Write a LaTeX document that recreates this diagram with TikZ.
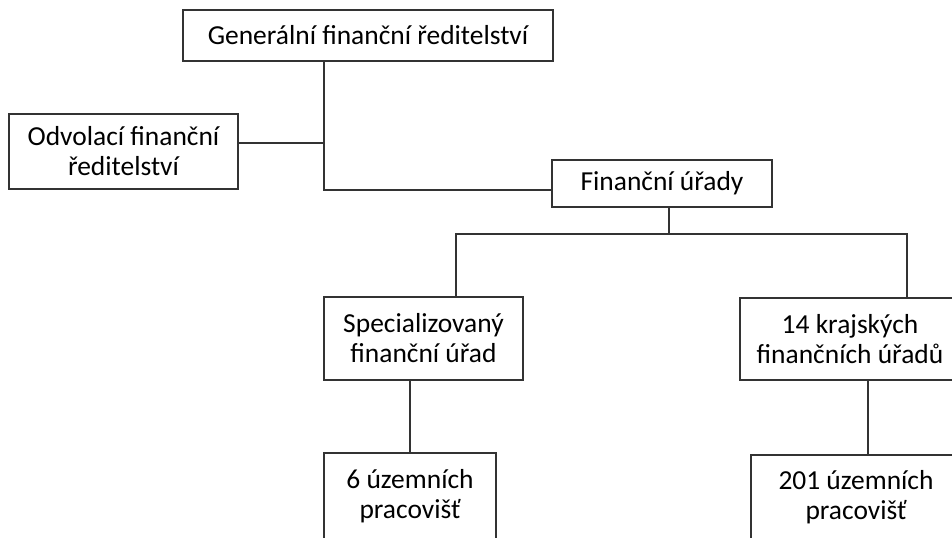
\documentclass[tikz,border=0pt]{standalone}
\usepackage{fontspec}
\setmainfont{Carlito}
\usetikzlibrary{positioning}

\tikzset{
  orgbox/.style={draw=black!80, line width=0.8pt, align=center, inner sep=0pt,
    font=\fontsize{20.6}{22.5}\selectfont},
  orgline/.style={draw=black!80, line width=0.8pt}
}

\begin{document}
\begin{tikzpicture}[x=0.75pt, y=-0.75pt]

  % ----------------------
  % Rozmery obrazku (pixely)
  % ----------------------
  \useasboundingbox (0,0) rectangle (952,537);
  \clip (0,0) rectangle (952,537);

  % ----------------------
  % Boxy
  % ----------------------
  \node[orgbox, minimum width=277.5pt, minimum height=38.25pt] (gfr) at (368,35.5) {Generální finanční ředitelství};
  \node[orgbox, minimum width=171.75pt, minimum height=56.25pt] (ofr) at (123.5,151.5) {Odvolací finanční\\ředitelství};
  \node[orgbox, minimum width=165pt, minimum height=35.25pt] (fu) at (662,183.5) {Finanční úřady};
  \node[orgbox, minimum width=149.25pt, minimum height=62.25pt] (sfu) at (423.5,338.5) {Specializovaný\\finanční úřad};
  \node[orgbox, minimum width=165pt, minimum height=61.5pt] (kfu) at (850,339) {14 krajských\\finančních úřadů};
  \node[orgbox, minimum width=129pt, minimum height=64.5pt] (uz6) at (410,496) {6 územních\\pracovišť};
  \node[orgbox, minimum width=157.5pt, minimum height=63pt] (uz201) at (856,497) {201 územních\\pracovišť};

  % ----------------------
  % Body spojnic
  % ----------------------
  \coordinate (trunk) at (324,190);     % svisla linka pod GFR
  \coordinate (ofrjoin) at (324,143);   % odbocka k OFR
  \coordinate (fudown) at (669,234);    % pod financnimi urady
  \coordinate (busL) at (456,234);
  \coordinate (busR) at (907,234);
  \coordinate (kfudown) at (868,0);

  % ----------------------
  % Spojnice
  % ----------------------
  \draw[orgline] (gfr.south -| trunk) -- (trunk) -- (trunk -| fu.west);
  \draw[orgline] (ofrjoin) -- (ofrjoin -| ofr.east);
  \draw[orgline] (fu.south -| fudown) -- (fudown);
  \draw[orgline] (busL |- sfu.north) -- (busL) -- (busR) -- (busR |- kfu.north);
  \draw[orgline] (sfu.south -| uz6.north) -- (uz6.north);
  \draw[orgline] (kfu.south -| kfudown) -- (uz201.north -| kfudown);

\end{tikzpicture}
\end{document}
